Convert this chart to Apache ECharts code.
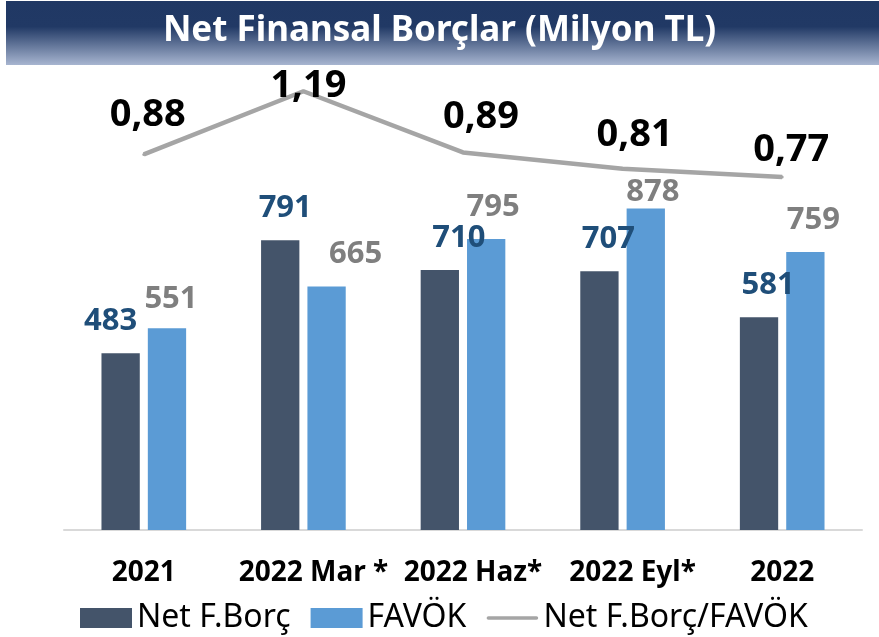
<!DOCTYPE html>
<html>
<head>
<meta charset="utf-8">
<script src="https://cdn.jsdelivr.net/npm/echarts@6/dist/echarts.min.js"></script>
<style>
html,body{margin:0;padding:0;background:#fff;}
#chart{width:879px;height:637px;}
</style>
</head>
<body>
<div id="chart"></div>
<script>
const categories = ['2021', '2022 Mar *', '2022 Haz*', '2022 Eyl*', '2022'];
const netBorc = [483, 791, 710, 707, 581];
const favok = [551, 665, 795, 878, 759];
const ratio = [0.88, 1.19, 0.89, 0.81, 0.77];
const titleText = 'Net Finansal Borçlar (Milyon TL)';
const seriesNames = ['Net F.Borç', 'FAVÖK', 'Net F.Borç/FAVÖK'];

const FONT = 'Noto Sans';
// per-label manual offsets (style)
const borcOff = [[-10, -2], [5, -3], [19, -2], [9, -2], [9, -3]];
const favokOff = [[4, 0], [29, -3], [7, -2], [7, 13], [8, -2]];
const ratioOff = [[4, -4], [5, 30], [18, 0], [12, 2], [9, 9]];

function fmtComma(v) { return v.toFixed(2).replace('.', ','); }

const chart = echarts.init(document.getElementById('chart'), null, {renderer: 'canvas'});
chart.setOption({
  backgroundColor: '#ffffff',
  animation: false,
  graphic: [
    {
      type: 'rect',
      shape: {x: 6, y: 1, width: 873, height: 64},
      style: {
        fill: new echarts.graphic.LinearGradient(0, 0, 0, 1, [
          {offset: 0, color: '#203864'},
          {offset: 0.4, color: '#213965'},
          {offset: 1, color: '#A7B5D0'}
        ])
      },
      z: 0
    },
    {
      type: 'text',
      left: 'center',
      top: 14,
      style: {
        text: titleText,
        fill: '#ffffff',
        font: 'bold 35px "Noto Sans"'
      },
      z: 1
    }
  ],
  legend: {
    left: 75,
    top: 597,
    itemWidth: 52,
    itemHeight: 20,
    itemGap: 20,
    textStyle: {fontFamily: FONT, fontSize: 32, color: '#000'},
    data: [
      {name: seriesNames[0], icon: 'rect'},
      {name: seriesNames[1], icon: 'rect'},
      {name: seriesNames[2], icon: 'path://M0,0M2,8.2H50A1.8,1.8,0,0,1,50,11.8H2A1.8,1.8,0,0,1,2,8.2ZM52,20'}
    ]
  },
  grid: {left: 64, right: 17, top: 54, bottom: 107, containLabel: false},
  xAxis: {
    type: 'category',
    data: categories,
    axisLine: {lineStyle: {color: '#D9D9D9', width: 2}},
    axisTick: {show: false},
    axisLabel: {
      interval: 0,
      margin: 29,
      fontFamily: FONT,
      fontWeight: 'bold',
      fontSize: 28,
      color: '#000',
      formatter: function (v) { return v.indexOf('*') >= 0 ? '{sp| }' + v : v; },
      rich: {sp: {width: 20, fontSize: 28}}
    }
  },
  yAxis: [
    {type: 'value', min: 0, max: 1300, show: false, splitLine: {show: false}},
    {type: 'value', min: -0.961, max: 1.3725, show: false, splitLine: {show: false}}
  ],
  series: [
    {
      name: seriesNames[0],
      type: 'bar',
      data: netBorc.map((v, i) => ({value: v, label: {offset: borcOff[i]}})),
      barWidth: '24%',
      barGap: '21%',
      itemStyle: {color: '#44546A'},
      label: {
        show: true, position: 'top', distance: 14,
        fontFamily: FONT, fontWeight: 'bold', fontSize: 31, color: '#1F4E79'
      }
    },
    {
      name: seriesNames[1],
      type: 'bar',
      data: favok.map((v, i) => ({value: v, label: {offset: favokOff[i]}})),
      barWidth: '24%',
      barGap: '21%',
      itemStyle: {color: '#5B9BD5'},
      label: {
        show: true, position: 'top', distance: 14,
        fontFamily: FONT, fontWeight: 'bold', fontSize: 31, color: '#7F7F7F'
      }
    },
    {
      name: seriesNames[2],
      type: 'line',
      yAxisIndex: 1,
      data: ratio.map((v, i) => ({value: v, label: {offset: ratioOff[i]}})),
      symbol: 'circle',
      symbolSize: 3,
      itemStyle: {color: '#A5A5A5'},
      lineStyle: {color: '#A5A5A5', width: 4.5},
      clip: false,
      z: 5,
      label: {
        show: true, position: 'top', distance: 15,
        fontFamily: FONT, fontWeight: 'bold', fontSize: 38, color: '#000',
        formatter: p => fmtComma(p.value)
      }
    }
  ]
});
</script>
</body>
</html>
